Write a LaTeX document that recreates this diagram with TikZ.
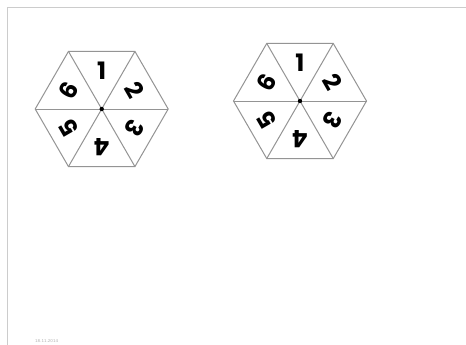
\documentclass[tikz,border=0pt]{standalone}
\usepackage{fontspec}
\setmainfont{DejaVu Sans}
\newfontfamily\digitfont{Poppins}
\usetikzlibrary{calc}
\begin{document}
\begin{tikzpicture}[x=1pt,y=-1pt,
  hexline/.style={draw=black!42,line width=1pt},
  digit/.style={font=\digitfont\fontsize{24}{24}\selectfont\bfseries,inner sep=0pt},
  framestyle/.style={draw=black!20,line width=0.8pt}]
\useasboundingbox (0,0) rectangle (466,345);
\fill[white] (0,0) rectangle (466,345);
% frame
\coordinate (ftl) at (7.5,7.5);
\coordinate (ftr) at (466,7.5);
\coordinate (fbl) at (7.5,345);
\draw[framestyle] (ftr) -- (ftl) -- (fbl);
% hexagons
\foreach \n/\cx/\cy in {A/101.7/109, B/300/101}{
  \coordinate (\n c) at (\cx,\cy);
  \foreach \i in {0,...,5}{
    \coordinate (\n v\i) at ($(\n c)+({66.5*cos(60*\i)},{-66.5*sin(60*\i)})$);
  }
  \draw[hexline] (\n v0) -- (\n v1) -- (\n v2) -- (\n v3) -- (\n v4) -- (\n v5) -- cycle;
  \foreach \i in {0,...,5}{ \draw[hexline] (\n c) -- (\n v\i); }
  \fill (\n c) circle (2.2);
  \foreach \d/\a in {1/90,2/30,3/-30,4/-90,5/-150,6/150}{
    \node[digit,rotate={\a-90}] (\n d\d) at ($(\n c)+({38*cos(\a)},{-38*sin(\a)})$) {\d};
  }
}
% footer
\node[font=\fontsize{4}{4}\selectfont,text=black!30,anchor=west,inner sep=0pt] (date) at (35,341) {18.11.2014};
\end{tikzpicture}
\end{document}
